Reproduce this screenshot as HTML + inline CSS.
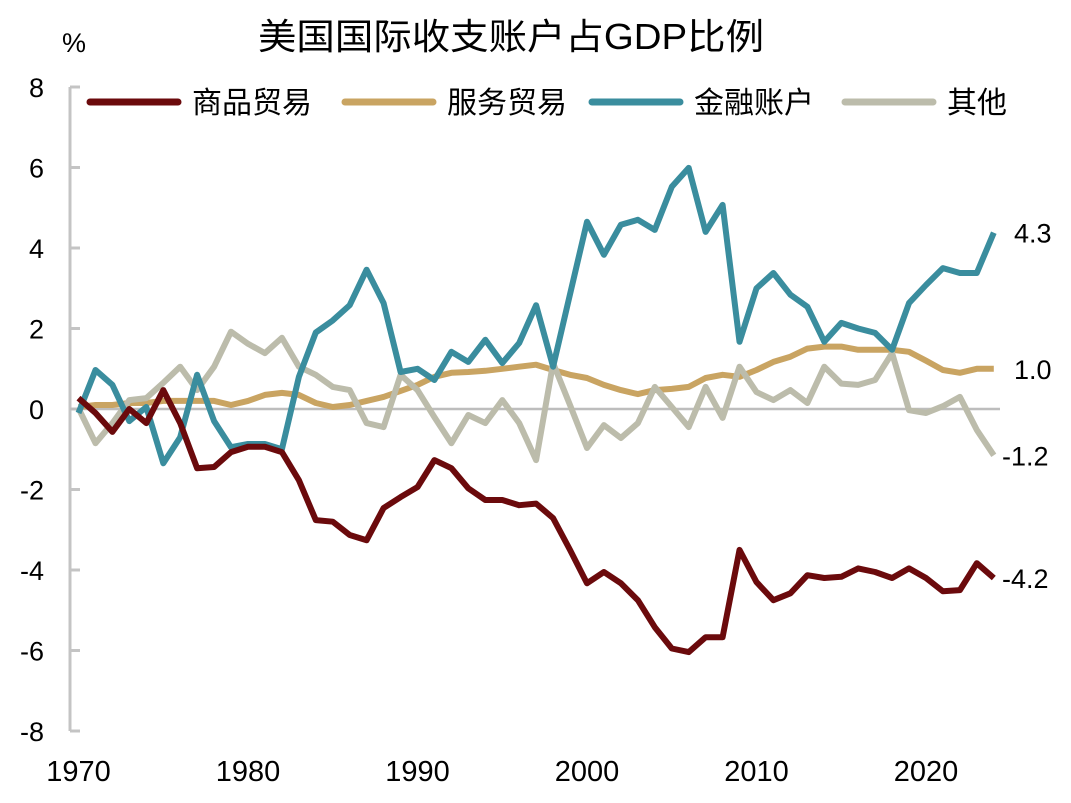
<!DOCTYPE html>
<html><head><meta charset="utf-8"><style>
body{margin:0;background:#fff;width:1071px;height:798px;overflow:hidden}
svg text{font-family:"Liberation Sans","Noto Sans CJK SC",sans-serif;fill:#000}
</style></head><body>
<svg id="chart" width="1071" height="798" viewBox="0 0 1071 798" xmlns="http://www.w3.org/2000/svg">
<text x="258" y="49" font-size="36" textLength="506" lengthAdjust="spacingAndGlyphs">美国国际收支账户占GDP比例</text>
<text x="62" y="52" font-size="27">%</text>
<g id="axes"></g>
<g id="lines"></g>
<g id="legend"></g>
</svg>
<script>
const years = [];
for (let y = 1970; y <= 2024; y++) years.push(y);
const goods = [0.27,-0.1,-0.57,0,-0.35,0.47,-0.35,-1.47,-1.44,-1.07,-0.94,-0.94,-1.07,-1.77,-2.76,-2.8,-3.13,-3.26,-2.46,-2.19,-1.94,-1.27,-1.47,-1.97,-2.26,-2.26,-2.39,-2.35,-2.71,-3.5,-4.33,-4.05,-4.33,-4.75,-5.42,-5.95,-6.04,-5.67,-5.67,-3.5,-4.3,-4.75,-4.58,-4.13,-4.2,-4.17,-3.96,-4.05,-4.2,-3.96,-4.2,-4.53,-4.5,-3.83,-4.2];
const services = [0.05,0.1,0.1,0.15,0.15,0.2,0.2,0.2,0.2,0.1,0.2,0.35,0.4,0.35,0.15,0.05,0.1,0.2,0.3,0.45,0.6,0.8,0.9,0.92,0.95,1.0,1.05,1.1,0.97,0.85,0.77,0.6,0.47,0.37,0.47,0.5,0.55,0.77,0.85,0.8,0.97,1.17,1.3,1.5,1.55,1.55,1.47,1.47,1.47,1.42,1.2,0.97,0.9,1.0,1.0];
const financial = [-0.1,0.97,0.6,-0.3,0.05,-1.35,-0.7,0.85,-0.3,-0.95,-0.87,-0.87,-1.0,0.8,1.9,2.2,2.58,3.46,2.63,0.92,1.0,0.72,1.42,1.17,1.72,1.14,1.64,2.58,1.05,2.85,4.65,3.83,4.58,4.7,4.45,5.52,5.99,4.4,5.07,1.67,3.0,3.38,2.84,2.54,1.67,2.14,2.0,1.89,1.47,2.63,3.08,3.5,3.38,3.38,4.38];
const other = [0.02,-0.85,-0.35,0.22,0.27,0.65,1.05,0.47,1.05,1.92,1.62,1.39,1.77,1.05,0.85,0.55,0.47,-0.35,-0.45,0.85,0.47,-0.2,-0.85,-0.15,-0.35,0.22,-0.35,-1.27,1.14,0.1,-0.97,-0.4,-0.72,-0.35,0.55,0.05,-0.45,0.55,-0.22,1.05,0.42,0.22,0.47,0.15,1.05,0.63,0.6,0.72,1.39,-0.03,-0.1,0.07,0.3,-0.52,-1.15];
const yTicks = [8,6,4,2,0,-2,-4,-6,-8];
const xTicks = [1970,1980,1990,2000,2010,2020];
const seriesNames = ["商品贸易","服务贸易","金融账户","其他"];
const endLabels = ["-4.2","1.0","4.3","-1.2"];

const NS = "http://www.w3.org/2000/svg";
function X(yr){ return 78.5 + (yr - 1970) * 16.95; }
function Y(v){ return 409 - v * 40.25; }
function mk(tag, attrs, parent){ const e = document.createElementNS(NS, tag); for (const k in attrs) e.setAttribute(k, attrs[k]); parent.appendChild(e); return e; }
const axes = document.getElementById('axes');
const axisLine = mk('line', {x1:70, y1:Y(8), x2:70, y2:Y(-8), stroke:'#c4c4c4', 'stroke-width':3}, axes);


yTicks.forEach(t => {
  const tk = mk('line', {x1:70, y1:Y(t), x2:80, y2:Y(t), stroke:'#c4c4c4', 'stroke-width':3}, axes);
  
  
  const lb = mk('text', {x:44, y:Y(t)+10, 'font-size':27, 'text-anchor':'end'}, axes);
  lb.textContent = t;
  
  
});
const zero = mk('line', {x1:70, y1:Y(0), x2:1000, y2:Y(0), stroke:'#bdbdbd', 'stroke-width':2.5}, axes);


xTicks.forEach((t,i) => {
  const lb = mk('text', {x: X(t), y:781, 'font-size':29, 'text-anchor':'middle'}, axes);
  lb.textContent = t;
  
  
});
const colors = ['#6b0a0c','#c9a462','#3a8d9e','#bcbcab'];
const data = [goods, services, financial, other];
const order = [1,3,2,0];
const lines = document.getElementById('lines');
order.forEach(s => {
  const pts = data[s].map((v,i) => X(years[i]).toFixed(1)+','+Y(v).toFixed(1)).join(' ');
  const pl = mk('polyline', {points:pts, fill:'none', stroke:colors[s], 'stroke-width':6, 'stroke-linejoin':'round'}, lines);
  
  
});
data.forEach((d,s) => {
  const v = d[d.length-1];
  const lb = mk('text', {x: endLabels[s].startsWith('-') ? 1002 : 1014, y:Y(v)+10, 'font-size':27}, lines);
  lb.textContent = endLabels[s];
  
  
});
const legend = document.getElementById('legend');
const lx = [90, 345, 592, 845];
seriesNames.forEach((n,s) => {
  const ln = mk('line', {x1:lx[s], y1:102, x2:lx[s]+88, y2:102, stroke:colors[s], 'stroke-width':7, 'stroke-linecap':'round'}, legend);
  
  
  const t = mk('text', {x:lx[s]+102, y:113, 'font-size':30}, legend);
  t.textContent = n;
  
  
});
</script>
</body></html>
